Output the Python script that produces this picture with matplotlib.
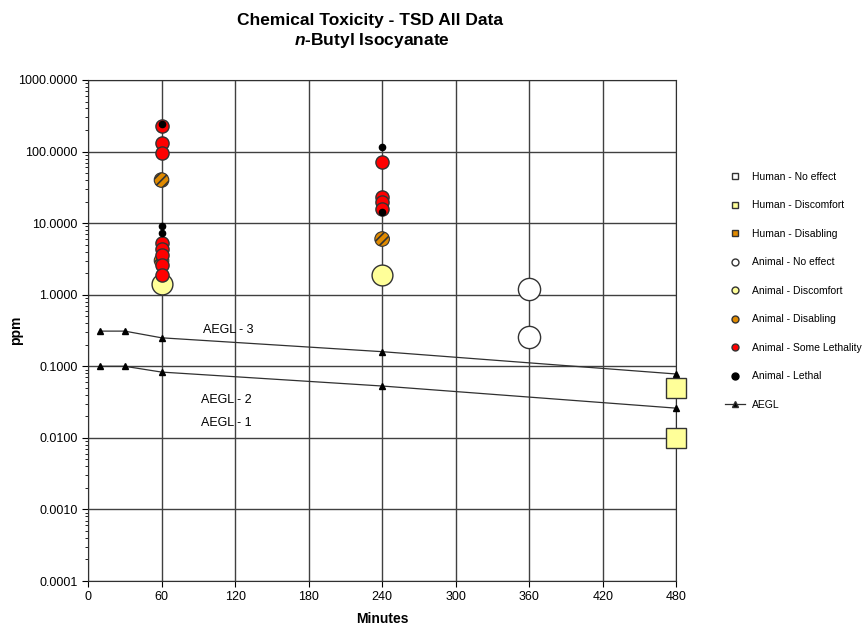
import matplotlib
matplotlib.use("Agg")
import matplotlib.pyplot as plt
from matplotlib.lines import Line2D
import numpy as np

plt.rcParams["font.family"] = ["Liberation Sans", "DejaVu Sans"]
plt.rcParams["mathtext.fontset"] = "custom"
plt.rcParams["mathtext.it"] = "Liberation Sans:italic:bold"
plt.rcParams["hatch.color"] = "#7a4a00"
plt.rcParams["hatch.linewidth"] = 1.2

# data
human_discomfort_x = [480, 480]
human_discomfort_y = [0.05, 0.01]

animal_no_effect_x = [360, 360]
animal_no_effect_y = [1.2, 0.26]

animal_discomfort_x = [60, 240]
animal_discomfort_y = [1.4, 1.9]

animal_disabling_x = [60, 60, 240]
animal_disabling_y = [40, 3.0, 6.0]

animal_some_leth_x = [60, 60, 60, 60, 60, 60, 60, 60, 240, 240, 240, 240]
animal_some_leth_y = [225, 130, 96, 5.3, 4.4, 3.6, 2.6, 1.9, 72, 23, 20, 16]

animal_lethal_x = [60, 60, 60, 240, 240]
animal_lethal_y = [240, 9.0, 7.3, 117, 14.2]

aegl_x = [10, 30, 60, 240, 480]
aegl3 = [0.31, 0.31, 0.25, 0.16, 0.078]
aegl2 = [0.10, 0.10, 0.083, 0.053, 0.026]

yellow = "#ffff99"
orange = "#e08a00"

fig = plt.figure(figsize=(8.67, 6.25), dpi=100)
ax = fig.add_axes([0.1015, 0.0704, 0.6785, 0.8016])

ax.set_yscale("log")
ax.set_xlim(0, 480)
ax.set_ylim(0.0001, 1000)
ax.set_xticks(np.arange(0, 481, 60))
yt = [0.0001, 0.001, 0.01, 0.1, 1, 10, 100, 1000]
ax.set_yticks(yt)
ax.set_yticklabels(["%.4f" % v for v in yt])
ax.tick_params(axis="both", labelsize=9, colors="black", length=4, direction="out")
ax.tick_params(axis="y", which="minor", length=2)
ax.tick_params(axis="x", which="minor", length=0)
ax.grid(True, which="major", color="#404040", linewidth=1.0)
for s in ax.spines.values():
    s.set_color("#303030")

# AEGL lines
for vals in (aegl3, aegl2):
    ax.plot(aegl_x, vals, color="#303030", linewidth=0.9, marker="^", clip_on=False,
            markersize=5, markerfacecolor="black", markeredgecolor="black", zorder=3)

ax.text(94, 0.32, "AEGL - 3", fontsize=9, ha="left", va="center")
ax.text(92, 0.034, "AEGL - 2", fontsize=9, ha="left", va="center")
ax.text(92, 0.016, "AEGL - 1", fontsize=9, ha="left", va="center")

ax.plot(human_discomfort_x, human_discomfort_y, linestyle="none", marker="s", clip_on=False,
        markersize=14, markerfacecolor=yellow, markeredgecolor="#333333", zorder=4)
ax.plot(animal_no_effect_x, animal_no_effect_y, linestyle="none", marker="o", clip_on=False,
        markersize=16, markerfacecolor="white", markeredgecolor="#333333", zorder=4)
ax.plot(animal_discomfort_x, animal_discomfort_y, linestyle="none", marker="o", clip_on=False,
        markersize=15, markerfacecolor=yellow, markeredgecolor="#333333", zorder=4)
ax.scatter(animal_disabling_x, animal_disabling_y, s=110, c=orange, edgecolors="#333333",
           hatch="////", linewidths=0.8, zorder=5, clip_on=False)
ax.plot(animal_some_leth_x, animal_some_leth_y, linestyle="none", marker="o", clip_on=False,
        markersize=9.5, markerfacecolor="red", markeredgecolor="#333333", zorder=6)
ax.plot(animal_lethal_x, animal_lethal_y, linestyle="none", marker="o", clip_on=False,
        markersize=4.5, markerfacecolor="black", markeredgecolor="black", zorder=7)

fig.text(0.427, 0.968, "Chemical Toxicity - TSD All Data", fontsize=12.5, fontweight="bold",
         ha="center", va="center")
fig.text(0.429, 0.935, r"$\mathit{n}$-Butyl Isocyanate", fontsize=12.5, fontweight="bold",
         ha="center", va="center")
ax.set_xlabel("Minutes", fontsize=10, fontweight="bold", labelpad=6)
ax.set_ylabel("ppm", fontsize=10, fontweight="bold")
ax.yaxis.set_label_coords(-0.11, 0.5)

handles = [
    Line2D([], [], linestyle="none", marker="s", markersize=5, markerfacecolor="white", markeredgecolor="#333333"),
    Line2D([], [], linestyle="none", marker="s", markersize=5, markerfacecolor=yellow, markeredgecolor="#333333"),
    Line2D([], [], linestyle="none", marker="s", markersize=5, markerfacecolor=orange, markeredgecolor="#333333"),
    Line2D([], [], linestyle="none", marker="o", markersize=5, markerfacecolor="white", markeredgecolor="#333333"),
    Line2D([], [], linestyle="none", marker="o", markersize=5, markerfacecolor=yellow, markeredgecolor="#333333"),
    Line2D([], [], linestyle="none", marker="o", markersize=5, markerfacecolor=orange, markeredgecolor="#333333"),
    Line2D([], [], linestyle="none", marker="o", markersize=5, markerfacecolor="red", markeredgecolor="#333333"),
    Line2D([], [], linestyle="none", marker="o", markersize=5, markerfacecolor="black", markeredgecolor="black"),
    Line2D([], [], color="#303030", linewidth=0.9, marker="^", markersize=4, markerfacecolor="black"),
]
labels = ["Human - No effect", "Human - Discomfort", "Human - Disabling",
          "Animal - No effect", "Animal - Discomfort", "Animal - Disabling",
          "Animal - Some Lethality", "Animal - Lethal", "AEGL"]
fig.legend(handles, labels, loc="upper left", bbox_to_anchor=(0.831, 0.732),
           frameon=False, fontsize=7.5, labelspacing=1.78, handlelength=2.0,
           handletextpad=0.6, borderaxespad=0)

fig.savefig("out.png", dpi=100)
